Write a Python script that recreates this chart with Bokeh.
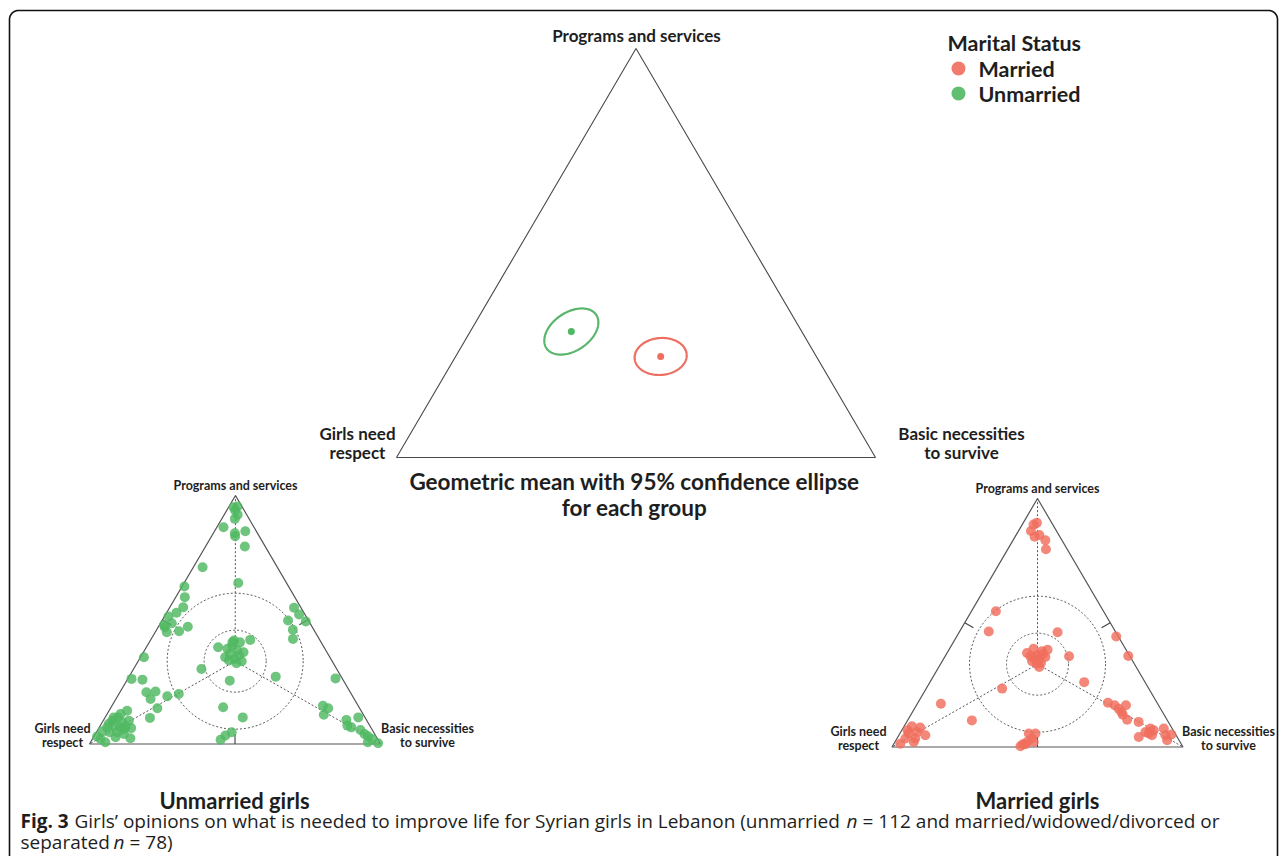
import numpy as np
from bokeh.plotting import figure
from bokeh.models import Range1d
from bokeh.core.properties import value
from bokeh.embed import file_html
from bokeh.resources import INLINE

# ---------------- data ----------------
vertex_labels = ["Programs and services", "Girls need respect", "Basic necessities to survive"]
group_names = ["Married", "Unmarried"]
# geometric means (compositions: programs, respect, basic)
mean_programs = [0.247, 0.308]
mean_respect = [0.325, 0.481]
mean_basic = [0.428, 0.211]
# 95% confidence ellipses: full axes as share of triangle width, tilt (deg)
ellipse_major = [0.109, 0.125]
ellipse_minor = [0.077, 0.080]
ellipse_tilt = [5, 34]

unmarried_programs = [0.953, 0.956, 0.940, 0.923, 0.906, 0.872, 0.856, 0.848, 0.836, 0.795,
                      0.711, 0.648, 0.634, 0.591, 0.550, 0.528, 0.513, 0.486, 0.470, 0.450,
                      0.454, 0.472, 0.479, 0.548, 0.521, 0.497, 0.493, 0.460, 0.423, 0.416,
                      0.409, 0.419, 0.389, 0.383, 0.396, 0.376, 0.369, 0.349, 0.362, 0.342,
                      0.333, 0.325, 0.336, 0.302, 0.255, 0.271, 0.264, 0.349, 0.262, 0.259,
                      0.208, 0.211, 0.181, 0.192, 0.201, 0.144, 0.105, 0.134, 0.107, 0.094,
                      0.087, 0.074, 0.067, 0.070, 0.064, 0.067, 0.051, 0.047, 0.047, 0.040,
                      0.023, 0.030, 0.007, 0.027, 0.081, 0.121, 0.148, 0.107, 0.047, 0.034,
                      0.017, 0.154, 0.144, 0.118, 0.097, 0.107, 0.074, 0.067, 0.056, 0.040,
                      0.031, 0.007, 0.003, 0.020, 0.409, 0.356, 0.107, 0.060, 0.020, 0.094]
unmarried_respect = [0.030, 0.015, 0.031, 0.031, 0.049, 0.105, 0.038, 0.078, 0.083, 0.070,
                     0.257, 0.166, 0.358, 0.378, 0.404, 0.438, 0.473, 0.475, 0.507, 0.510,
                     0.466, 0.427, 0.505, 0.024, 0.020, 0.070, 0.011, 0.072, 0.090, 0.296,
                     0.279, 0.239, 0.364, 0.335, 0.312, 0.305, 0.287, 0.360, 0.337, 0.331,
                     0.311, 0.333, 0.353, 0.465, 0.391, 0.225, 0.023, 0.639, 0.725, 0.689,
                     0.701, 0.668, 0.700, 0.637, 0.593, 0.695, 0.740, 0.804, 0.849, 0.875,
                     0.844, 0.879, 0.862, 0.841, 0.825, 0.906, 0.931, 0.907, 0.881, 0.862,
                     0.848, 0.959, 0.942, 0.897, 0.893, 0.833, 0.467, 0.420, 0.488, 0.516,
                     0.541, 0.121, 0.108, 0.136, 0.069, 0.023, 0.077, 0.067, 0.041, 0.035,
                     0.028, 0.040, 0.007, 0.019, 0.305, 0.309, 0.863, 0.852, 0.952, 0.818]
unmarried_basic = [0.017, 0.029, 0.029, 0.046, 0.045, 0.023, 0.106, 0.074, 0.081, 0.135,
                   0.032, 0.186, 0.008, 0.031, 0.046, 0.034, 0.014, 0.039, 0.023, 0.040,
                   0.080, 0.101, 0.016, 0.428, 0.459, 0.433, 0.496, 0.468, 0.487, 0.288,
                   0.312, 0.342, 0.247, 0.282, 0.292, 0.319, 0.344, 0.291, 0.301, 0.327,
                   0.356, 0.342, 0.311, 0.233, 0.354, 0.504, 0.713, 0.012, 0.013, 0.052,
                   0.091, 0.121, 0.119, 0.171, 0.206, 0.161, 0.155, 0.062, 0.044, 0.031,
                   0.069, 0.047, 0.071, 0.089, 0.111, 0.027, 0.018, 0.046, 0.072, 0.098,
                   0.129, 0.011, 0.051, 0.076, 0.026, 0.046, 0.385, 0.473, 0.465, 0.450,
                   0.442, 0.725, 0.748, 0.746, 0.834, 0.870, 0.849, 0.866, 0.903, 0.925,
                   0.941, 0.953, 0.990, 0.961, 0.286, 0.335, 0.030, 0.088, 0.028, 0.088]

married_programs = [0.902, 0.895, 0.869, 0.846, 0.853, 0.832, 0.796, 0.546, 0.465, 0.462,
                    0.445, 0.366, 0.365, 0.261, 0.235, 0.174, 0.107, 0.378, 0.395, 0.385,
                    0.391, 0.362, 0.369, 0.345, 0.349, 0.322, 0.358, 0.338, 0.365, 0.083,
                    0.078, 0.060, 0.054, 0.047, 0.034, 0.020, 0.013, 0.067, 0.054, 0.054,
                    0.034, 0.020, 0.011, 0.003, 0.020, 0.178, 0.168, 0.168, 0.141, 0.130,
                    0.110, 0.101, 0.074, 0.060, 0.040, 0.047, 0.074, 0.047, 0.050, 0.027,
                    0.067, 0.154, 0.335, 0.373, 0.054, 0.034, 0.011]
married_respect = [0.051, 0.066, 0.088, 0.087, 0.067, 0.057, 0.073, 0.370, 0.435, 0.200,
                   0.007, 0.005, 0.209, 0.209, 0.504, 0.745, 0.672, 0.347, 0.316, 0.292,
                   0.270, 0.292, 0.317, 0.346, 0.321, 0.333, 0.331, 0.319, 0.342, 0.890,
                   0.864, 0.884, 0.916, 0.862, 0.937, 0.915, 0.965, 0.913, 0.503, 0.480,
                   0.502, 0.526, 0.545, 0.557, 0.503, 0.169, 0.151, 0.112, 0.141, 0.142,
                   0.137, 0.102, 0.075, 0.099, 0.132, 0.083, 0.029, 0.037, 0.015, 0.041,
                   0.067, 0.144, 0.336, 0.295, 0.091, 0.903, 0.536]
married_basic = [0.047, 0.039, 0.043, 0.067, 0.080, 0.111, 0.131, 0.084, 0.100, 0.338,
                 0.548, 0.629, 0.426, 0.530, 0.261, 0.081, 0.221, 0.275, 0.289, 0.323,
                 0.339, 0.346, 0.314, 0.309, 0.330, 0.345, 0.311, 0.343, 0.293, 0.027,
                 0.058, 0.056, 0.030, 0.091, 0.029, 0.065, 0.022, 0.020, 0.443, 0.466,
                 0.464, 0.454, 0.444, 0.440, 0.477, 0.653, 0.681, 0.720, 0.718, 0.728,
                 0.753, 0.797, 0.851, 0.841, 0.828, 0.870, 0.897, 0.916, 0.935, 0.932,
                 0.866, 0.702, 0.329, 0.332, 0.855, 0.063, 0.453]

# ---------------- styling / layout ----------------
GREEN = "#4fb862"
RED = "#f06e5d"
GREEN_LINE = "#5bb56d"
RED_LINE = "#ee6e62"
TXT = "#1e1e1e"
LABEL_FONT = "Lato"
CAP_FONT = "Open Sans"

W, H = 1281, 856
p = figure(width=W, height=H, x_range=Range1d(0, W), y_range=Range1d(H, 0),
           x_axis_type=None, y_axis_type=None, output_backend="svg",
           toolbar_location=None, min_border=0)
p.grid.visible = False
p.outline_line_color = None
p.background_fill_color = "white"
p.border_fill_color = "white"

# triangle vertices: (programs apex, respect bottom-left, basic bottom-right)
MAIN = ((635.5, 48), (396, 457), (875, 457))
LEFT = ((235, 495), (89, 743.5), (380, 743.5))
RIGHT = ((1037, 498), (891.5, 746.5), (1182.5, 746.5))


def bary(tri, a, l, r):
    a, l, r = (np.asarray(v, dtype=float) for v in (a, l, r))
    s = a + l + r
    a, l, r = a / s, l / s, r / s
    x = a * tri[0][0] + l * tri[1][0] + r * tri[2][0]
    y = a * tri[0][1] + l * tri[1][1] + r * tri[2][1]
    return x, y


def text(x, y, s, size, bold=True, align="center", baseline="middle",
         font=LABEL_FONT, style=None, color=TXT):
    fs = style if style else ("bold" if bold else "normal")
    p.text(x=[x], y=[y], text=[s], text_font=value(font), text_font_size=f"{size}px",
           text_font_style=fs, text_align=align, text_baseline=baseline, text_color=color)


# ---- frame ----
t = np.linspace(np.pi, 1.5 * np.pi, 20)
rc = 9
fx = list(9 + rc + rc * np.cos(t)) + list(1277 - rc - rc * np.cos(t[::-1]))
fy = list(10 + rc + rc * np.sin(t)) + list(10 + rc + rc * np.sin(t[::-1]))
p.line(x=[9] + fx + [1277], y=[H] + fy + [H], line_color="#111111", line_width=1.6)


def draw_triangle(tri, lw=1.1, color="#4a4a4a"):
    xs = [v[0] for v in tri] + [tri[0][0]]
    ys = [v[1] for v in tri] + [tri[0][1]]
    p.line(x=xs, y=ys, line_color=color, line_width=lw)


def small_decor(tri):
    cx = sum(v[0] for v in tri) / 3
    cy = sum(v[1] for v in tri) / 3
    for v in tri:
        p.line(x=[cx, v[0]], y=[cy, v[1]], line_color="#555555", line_width=1,
               line_dash="2 2")
    tt = np.linspace(0, 2 * np.pi, 240)
    for rad in (31, 68):
        p.line(x=cx + rad * np.cos(tt), y=cy + rad * np.sin(tt), line_color="#555555",
               line_width=1, line_dash="2 2")
    for i in range(3):
        v1, v2 = tri[i], tri[(i + 1) % 3]
        mx, my = (v1[0] + v2[0]) / 2, (v1[1] + v2[1]) / 2
        dx, dy = cx - mx, cy - my
        d = np.hypot(dx, dy)
        p.line(x=[mx, mx + 10 * dx / d], y=[my, my + 10 * dy / d], line_color="#444444",
               line_width=1.1)


# ---- main triangle ----
draw_triangle(MAIN, lw=1.1)
mx_, my_ = bary(MAIN, mean_programs, mean_respect, mean_basic)
main_w = MAIN[2][0] - MAIN[1][0]
tt = np.linspace(0, 2 * np.pi, 200)
for i, col in enumerate([RED_LINE, GREEN_LINE]):
    A = ellipse_major[i] * main_w / 2
    B = ellipse_minor[i] * main_w / 2
    th = np.deg2rad(ellipse_tilt[i])
    dx = A * np.cos(tt) * np.cos(th) - B * np.sin(tt) * np.sin(th)
    dy = A * np.cos(tt) * np.sin(th) + B * np.sin(tt) * np.cos(th)
    p.line(x=mx_[i] + dx, y=my_[i] - dy, line_color=col, line_width=2.2)
p.scatter(x=mx_, y=my_, size=7, fill_color=[RED, GREEN], line_color=None)

text(636, 35, "Programs and services", 17)
text(357, 433, "Girls need", 17)
text(357, 452, "respect", 17)
text(961, 433, "Basic necessities", 17)
text(961, 452, "to survive", 17)
text(634, 481, "Geometric mean with 95% confidence ellipse", 22.5)
text(634, 507, "for each group", 22.5)

# ---- legend ----
text(947, 42, "Marital Status", 21.5, align="left")
p.scatter(x=[958, 958], y=[68, 93], size=14, fill_color=[RED, GREEN], line_color=None,
          fill_alpha=0.9)
text(978, 68, group_names[0], 21.5, align="left")
text(978, 93, group_names[1], 21.5, align="left")

# ---- small triangles ----
for tri in (LEFT, RIGHT):
    draw_triangle(tri, lw=1.2, color="#555555")
    small_decor(tri)

ux, uy = bary(LEFT, unmarried_programs, unmarried_respect, unmarried_basic)
p.scatter(x=ux, y=uy, size=10, fill_color=GREEN, fill_alpha=0.82, line_color=None)
rx, ry = bary(RIGHT, married_programs, married_respect, married_basic)
p.scatter(x=rx, y=ry, size=10, fill_color=RED, fill_alpha=0.82, line_color=None)

for tri, gx, rxl in ((LEFT, 62, 427), (RIGHT, 858, 1228)):
    text(tri[0][0], tri[0][1] - 10, "Programs and services", 12.5)
    text(gx, tri[1][1] - 16, "Girls need", 12.5)
    text(gx, tri[1][1] - 2, "respect", 12.5)
    text(rxl, tri[2][1] - 16, "Basic necessities", 12.5)
    text(rxl, tri[2][1] - 2, "to survive", 12.5)

text(234, 800, "Unmarried girls", 22)
text(1037, 800, "Married girls", 22)

# ---- caption ----
cap_size = 19
text(20, 820, "Fig. 3", cap_size, font=CAP_FONT, align="left")
text(74, 820, "Girls’ opinions on what is needed to improve life for Syrian girls in Lebanon (unmarried",
     cap_size, bold=False, font=CAP_FONT, align="left")
text(846, 820, "n", cap_size, font=CAP_FONT, style="italic", align="left")
text(862, 820, "= 112 and married/widowed/divorced or", cap_size, bold=False, font=CAP_FONT,
     align="left")
text(20, 841, "separated", cap_size, bold=False, font=CAP_FONT, align="left")
text(113, 841, "n", cap_size, font=CAP_FONT, style="italic", align="left")
text(129, 841, "= 78)", cap_size, bold=False, font=CAP_FONT, align="left")

open("out.html", "w").write(file_html(p, INLINE))
